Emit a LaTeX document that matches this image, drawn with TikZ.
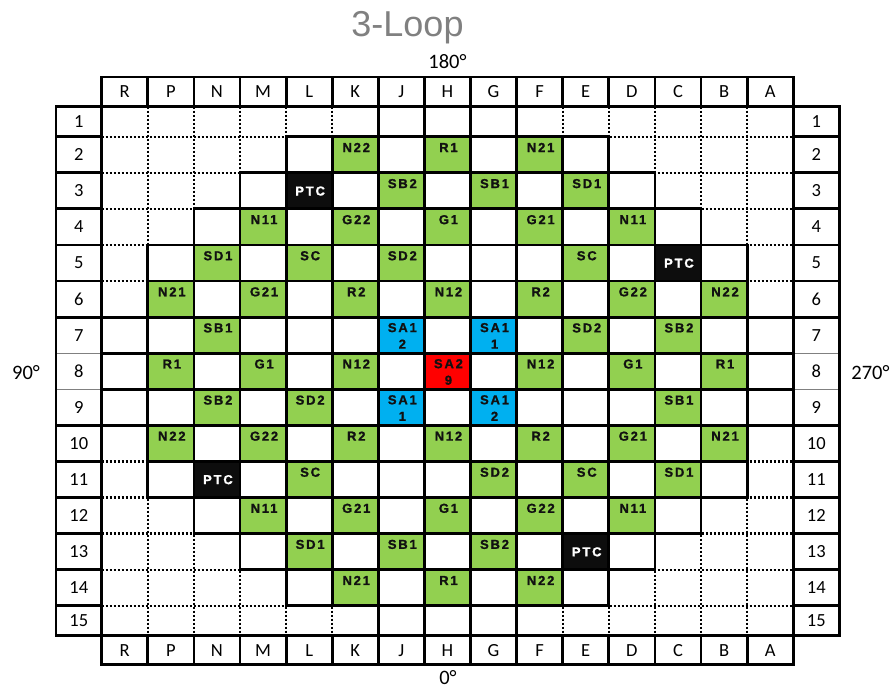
\documentclass[tikz,border=0pt]{standalone}
\usepackage{fontspec}
\setmainfont{Carlito}
\newfontfamily\titlefont{Liberation Sans}
\newfontfamily\cellfont{Liberation Sans}[UprightFont={* Bold},LetterSpace=14,FakeBold=1.2]
\definecolor{cgreen}{HTML}{92D050}
\definecolor{cblue}{HTML}{00B0F0}
\definecolor{cred}{HTML}{FF0000}
\definecolor{cblack}{HTML}{0D0D0D}
\definecolor{ctext}{HTML}{111111}
\definecolor{ctitle}{HTML}{808080}
\begin{document}
\begin{tikzpicture}[x=1pt,y=-1pt,
  declare function={colx(\i)=101.7+46.1*\i; rowy(\k)=(\k<1)?106.7:((\k>14)?635.74:136.7+(\k-1)*36.08);},
  gridline/.style={line width=2.8pt},
  dotline/.style={line width=2.2pt,dash pattern=on 2.2pt off 1.8pt},
  thinline/.style={line width=0.8pt,draw=gray},
  celltxt/.style={inner sep=0pt,anchor=base,text=ctext,font=\cellfont\fontsize{13}{15}\selectfont},
  ptctxt/.style={celltxt,text=white},
  lbltxt/.style={inner sep=0pt,anchor=base,font=\fontsize{18.5}{20}\selectfont},
  degtxt/.style={inner sep=0pt,anchor=base,font=\fontsize{20.5}{22}\selectfont},
  titletxt/.style={inner sep=0pt,anchor=base,text=ctitle,font=\titlefont\fontsize{36}{40}\selectfont}]
\useasboundingbox (0,0) rectangle (892,689);

% ---- coloured cells
\foreach \c/\r/\lab in {6/2/N22, 8/2/R1, 10/2/N21,
  7/3/SB2, 9/3/SB1, 11/3/SD1,
  4/4/N11, 6/4/G22, 8/4/G1, 10/4/G21, 12/4/N11,
  3/5/SD1, 5/5/SC, 7/5/SD2, 11/5/SC,
  2/6/N21, 4/6/G21, 6/6/R2, 8/6/N12, 10/6/R2, 12/6/G22, 14/6/N22,
  3/7/SB1, 11/7/SD2, 13/7/SB2,
  2/8/R1, 4/8/G1, 6/8/N12, 10/8/N12, 12/8/G1, 14/8/R1,
  3/9/SB2, 5/9/SD2, 13/9/SB1,
  2/10/N22, 4/10/G22, 6/10/R2, 8/10/N12, 10/10/R2, 12/10/G21, 14/10/N21,
  5/11/SC, 9/11/SD2, 11/11/SC, 13/11/SD1,
  4/12/N11, 6/12/G21, 8/12/G1, 10/12/G22, 12/12/N11,
  5/13/SD1, 7/13/SB1, 9/13/SB2,
  6/14/N21, 8/14/R1, 10/14/N22}{
  \fill[cgreen] ({colx(\c-1)},{rowy(\r-1)}) rectangle ({colx(\c)},{rowy(\r)});
  \node[celltxt] (g-\c-\r) at ({colx(\c-0.5)+1},{rowy(\r-1)+15.3}) {\lab};
}
\foreach \c/\r in {5/3, 13/5, 3/11, 11/13}{
  \fill[cblack] ({colx(\c-1)},{rowy(\r-1)}) rectangle ({colx(\c)},{rowy(\r)});
  \node[ptctxt] (p-\c-\r) at ({colx(\c-0.5)+1},{(rowy(\r-1)+rowy(\r))/2+4.7}) {PTC};
}
\foreach \c/\r/\col/\la/\lb in {7/7/cblue/SA1/2, 9/7/cblue/SA1/1, 8/8/cred/SA2/9, 7/9/cblue/SA1/1, 9/9/cblue/SA1/2}{
  \fill[\col] ({colx(\c-1)},{rowy(\r-1)}) rectangle ({colx(\c)},{rowy(\r)});
  \node[celltxt] (sa-\c-\r) at ({colx(\c-0.5)+1},{rowy(\r-1)+15}) {\la};
  \node[celltxt] (sb-\c-\r) at ({colx(\c-0.5)+1},{rowy(\r-1)+31.5}) {\lb};
}

% ---- dotted grid (outer region)
\foreach \i in {1,...,14}{
  \draw[dotline] ({colx(\i)},{rowy(0)}) -- ({colx(\i)},{rowy(15)});
  \draw[dotline] ({colx(0)},{rowy(\i)}) -- ({colx(15)},{rowy(\i)});
}

% ---- thick cells of the active region
\foreach \r/\lo/\hi in {1/7/9, 2/5/11, 3/4/12, 4/3/13, 5/2/14, 6/2/14, 7/1/15, 8/1/15,
  9/1/15, 10/2/14, 11/2/14, 12/3/13, 13/4/12, 14/5/11, 15/7/9}{
  \foreach \c in {\lo,...,\hi}{
    \draw[gridline] ({colx(\c-1)},{rowy(\r-1)}) rectangle ({colx(\c)},{rowy(\r)});
  }
}

% ---- headers and row-label columns
\draw[gridline] ({colx(0)},77) rectangle ({colx(15)},{rowy(0)});
\draw[gridline] ({colx(0)},{rowy(15)}) rectangle ({colx(15)},664.3);
\foreach \i in {1,...,14}{
  \draw[gridline] ({colx(\i)},77) -- ({colx(\i)},{rowy(0)});
  \draw[gridline] ({colx(\i)},{rowy(15)}) -- ({colx(\i)},664.3);
}
\foreach \k in {1,...,6,9,10,11,12,13,14}{
  \draw[gridline] (56,{rowy(\k)}) -- ({colx(0)},{rowy(\k)});
  \draw[gridline] ({colx(15)},{rowy(\k)}) -- (839.3,{rowy(\k)});
}
\foreach \k in {7,8}{
  \draw[thinline] (56,{rowy(\k)}) -- ({colx(0)},{rowy(\k)});
  \draw[thinline] ({colx(15)},{rowy(\k)}) -- (839.3,{rowy(\k)});
}
\draw[gridline] (56,{rowy(0)}) rectangle ({colx(0)},{rowy(15)});
\draw[gridline] ({colx(15)},{rowy(0)}) rectangle (839.3,{rowy(15)});

% ---- header letters and row numbers
\foreach \c/\L in {1/R,2/P,3/N,4/M,5/L,6/K,7/J,8/H,9/G,10/F,11/E,12/D,13/C,14/B,15/A}{
  \node[lbltxt] (ht-\c) at ({colx(\c-0.5)},97.8) {\L};
  \node[lbltxt] (hb-\c) at ({colx(\c-0.5)},656) {\L};
}
\foreach \r in {1,...,15}{
  \node[lbltxt] (rl-\r) at (78.85,{(rowy(\r-1)+rowy(\r))/2+6}) {\r};
  \node[lbltxt] (rr-\r) at (816.25,{(rowy(\r-1)+rowy(\r))/2+6}) {\r};
}

% ---- title and angle labels
\node[titletxt] (title) at (407.5,36) {3-Loop};
\node[degtxt] (d180) at (447.5,68.5) {180°};
\node[degtxt] (d0) at (448,684) {0°};
\node[degtxt] (d90) at (26,379.3) {90°};
\node[degtxt] (d270) at (870.5,379.3) {270°};
\end{tikzpicture}
\end{document}
